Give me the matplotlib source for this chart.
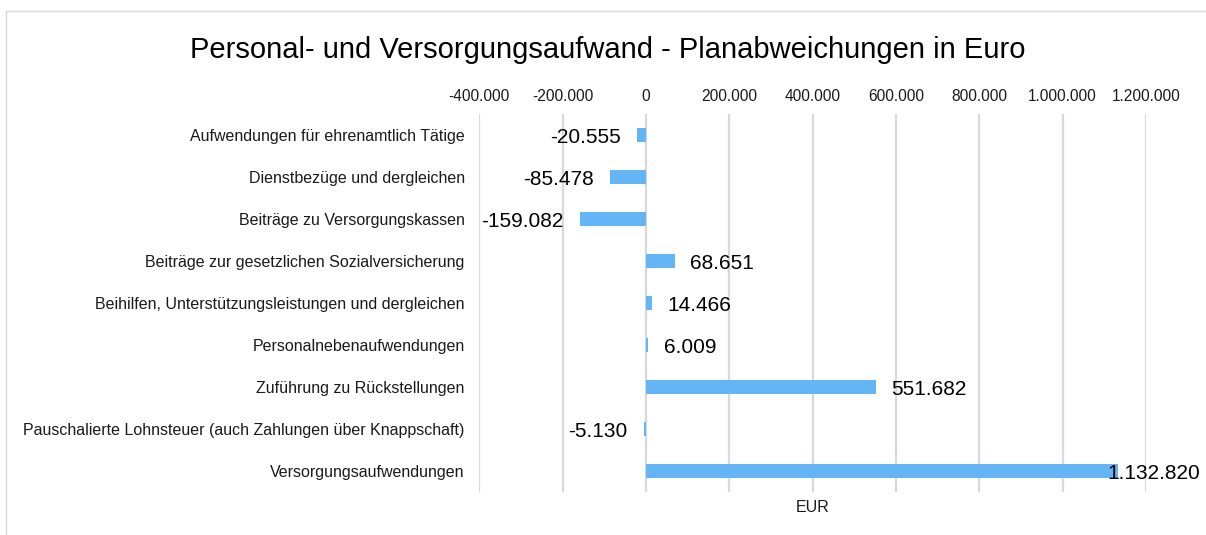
import matplotlib
matplotlib.use("Agg")
import matplotlib.pyplot as plt
from matplotlib.patches import Rectangle

plt.rcParams['font.family'] = ['Liberation Sans', 'DejaVu Sans']

categories = [
    "Aufwendungen für ehrenamtlich Tätige",
    "Dienstbezüge und dergleichen",
    "Beiträge zu Versorgungskassen",
    "Beiträge zur gesetzlichen Sozialversicherung",
    "Beihilfen, Unterstützungsleistungen und dergleichen",
    "Personalnebenaufwendungen",
    "Zuführung zu Rückstellungen",
    "Pauschalierte Lohnsteuer (auch Zahlungen über Knappschaft)",
    "Versorgungsaufwendungen",
]
values = [-20555, -85478, -159082, 68651, 14466, 6009, 551682, -5130, 1132820]
tick_values = [-400000, -200000, 0, 200000, 400000, 600000, 800000, 1000000, 1200000]
title = "Personal- und Versorgungsaufwand - Planabweichungen in Euro"
axis_label = "EUR"


def de_fmt(v):
    return f"{v:,}".replace(",", ".")


W, H = 1206, 535
fig = plt.figure(figsize=(W / 100, H / 100), dpi=100)
fig.patch.set_facecolor("white")

# outer chart border
fig.patches.append(Rectangle((6 / W, -0.5), 2, 1.5 - 11 / H, transform=fig.transFigure,
                             fill=False, edgecolor="#d9d9d9", lw=1.0, zorder=0))

ax = fig.add_axes([479.3 / W, 1 - 492 / H, (1146 - 479.3) / W, (492 - 114) / H])
ypos = list(range(len(categories)))
ax.barh(ypos, values, height=0.33, color="#64b5f6", zorder=3)
ax.set_xlim(tick_values[0], tick_values[-1])
ax.set_ylim(len(categories) - 0.5, -0.5)
ax.set_yticks(ypos)
ax.set_yticklabels(categories, fontsize=11.5, color="#1a1a1a")
ax.set_xticks(tick_values)
ax.set_xticklabels([de_fmt(t) for t in tick_values], fontsize=11.2, color="#1a1a1a")
ax.xaxis.tick_top()
ax.tick_params(axis="x", length=0, pad=7.5)
ax.tick_params(axis="y", length=0, pad=10.5)
for s in ax.spines.values():
    s.set_visible(False)
ax.grid(axis="x", color="#d9d9d9", lw=1.6, zorder=1)
ax.set_axisbelow(True)

xmax = tick_values[-1]
for y, v in zip(ypos, values):
    if v >= 0:
        if v > 0.9 * xmax:
            off, ha = -8, "left"
        else:
            off, ha = 11, "left"
    else:
        off, ha = -12, "right"
    ax.annotate(de_fmt(v), xy=(v, y), xytext=(off, -1.5), textcoords="offset points",
                ha=ha, va="center", fontsize=15, color="black", zorder=5,
                annotation_clip=False)

fig.text(0.5 * (479.3 + 1146) / W, 1 - 507 / H, axis_label, ha="center", va="center",
         fontsize=11.5, color="#1a1a1a")
fig.text(608 / W, 1 - 50 / H, title, ha="center", va="center", fontsize=21, color="black")

fig.savefig("out.png", dpi=100)
